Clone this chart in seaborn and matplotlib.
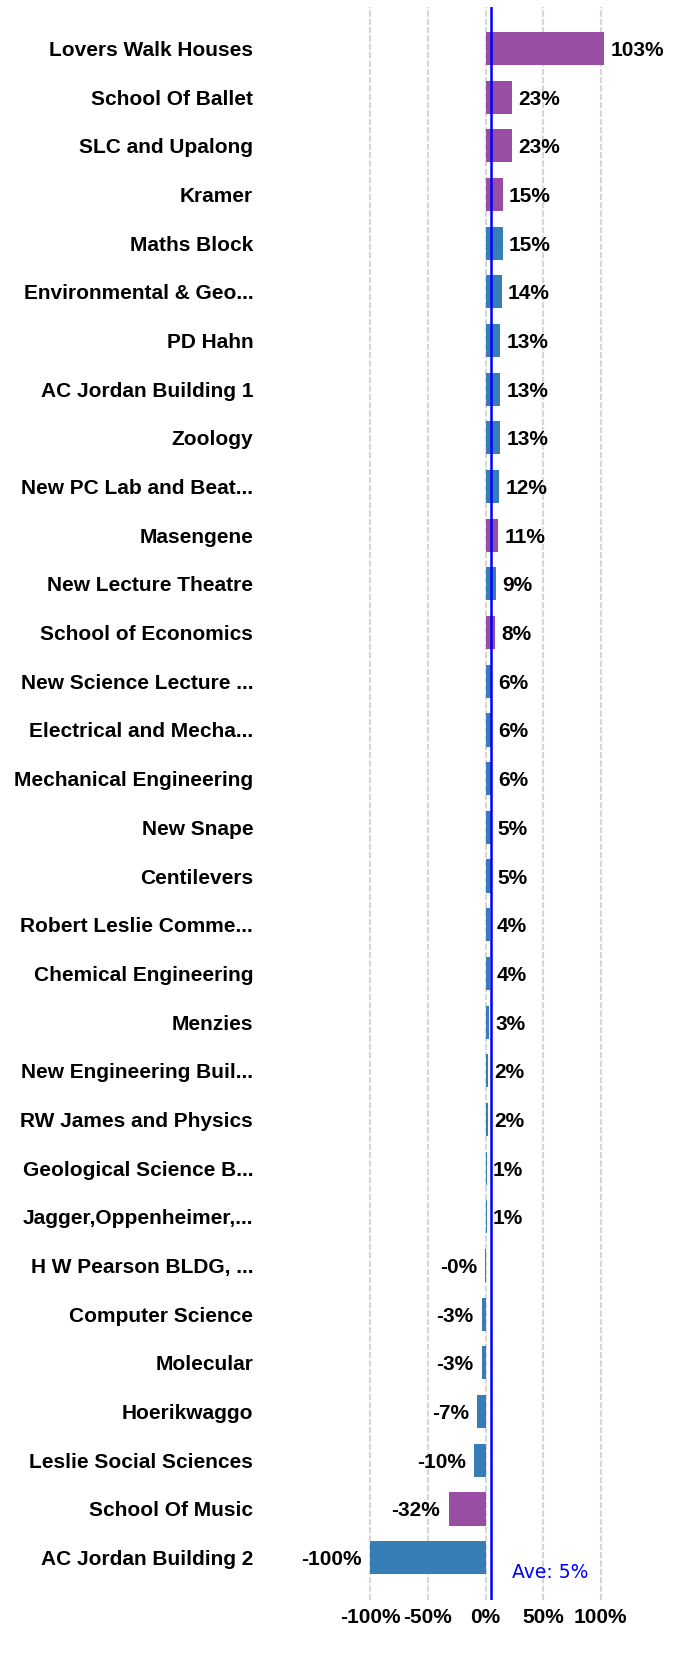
import pandas as pd
import matplotlib
matplotlib.use("Agg")
import matplotlib.pyplot as plt
import seaborn as sns

# building names (top to bottom), change values and colour group
buildings = [
    "Lovers Walk Houses", "School Of Ballet", "SLC and Upalong", "Kramer",
    "Maths Block", "Environmental & Geo...", "PD Hahn", "AC Jordan Building 1",
    "Zoology", "New PC Lab and Beat...", "Masengene", "New Lecture Theatre",
    "School of Economics", "New Science Lecture ...", "Electrical and Mecha...",
    "Mechanical Engineering", "New Snape", "Centilevers",
    "Robert Leslie Comme...", "Chemical Engineering", "Menzies",
    "New Engineering Buil...", "RW James and Physics", "Geological Science B...",
    "Jagger,Oppenheimer,...", "H W Pearson BLDG, ...", "Computer Science",
    "Molecular", "Hoerikwaggo", "Leslie Social Sciences", "School Of Music",
    "AC Jordan Building 2",
]
change = [
    103, 23, 23, 15, 15, 14, 13, 13, 13, 12, 11, 9, 8, 6, 6, 6, 5, 5, 4, 4, 3,
    2, 2, 1, 1, -0.3, -3, -3, -7, -10, -32, -100,
]
group = [
    "p", "p", "p", "p", "b", "b", "b", "b", "b", "b", "p", "b", "p", "b", "b",
    "b", "b", "b", "b", "b", "b", "b", "b", "b", "b", "b", "b", "b", "b", "b",
    "p", "b",
]
average = 5

colors = {"p": "#984EA3", "b": "#377EB8"}

df = pd.DataFrame({"building": buildings, "change": [c / 100 for c in change], "group": group})

sns.set_theme(style="white")
plt.rcParams["font.family"] = ["Liberation Sans", "DejaVu Sans"]

fig = plt.figure(figsize=(6.82, 16.54), dpi=100)
ax = fig.add_axes([299 / 682, 54 / 1654, (672 - 299) / 682, (1600 - 7) / 1654])

sns.barplot(data=df, x="change", y="building", hue="group", palette=colors,
            dodge=False, width=0.68, legend=False, ax=ax, saturation=1,
            linewidth=0, edgecolor="none", zorder=2)

ax.set_xlim(-1.62, 1.62)
ax.set_ylim(len(buildings) - 1 + 0.87, -0.85)
ax.set_xticks([-1, -0.5, 0, 0.5, 1])
ax.set_xticklabels(["-100%", "-50%", "0%", "50%", "100%"])
ax.set_xlabel("")
ax.set_ylabel("")
for s in ax.spines.values():
    s.set_visible(False)

# light dashed vertical grid
ax.grid(axis="x", color="#d6d6d6", linestyle=(0, (3, 1)), linewidth=1.5, zorder=0)
ax.set_axisbelow(True)
ax.tick_params(axis="x", length=2, width=1, color="#ff9900", pad=4, labelsize=15)
ax.tick_params(axis="y", length=0, pad=33, labelsize=15)
for t in ax.get_xticklabels() + ax.get_yticklabels():
    t.set_fontweight("bold")
    t.set_color("black")

# value labels
for i, v in enumerate(change):
    if v >= 0:
        ax.annotate(f"{v:.0f}%", (v / 100, i), xytext=(4.5, 0), textcoords="offset points",
                    ha="left", va="center_baseline", fontsize=15, fontweight="bold", color="black")
    else:
        ax.annotate(f"{v:.0f}%", (v / 100, i), xytext=(-6, 0), textcoords="offset points",
                    ha="right", va="center_baseline", fontsize=15, fontweight="bold", color="black")

# average line
ax.axvline(average / 100, color="#0000ff", linewidth=1.8, zorder=3)
ax.text(average / 100 + 0.18, len(buildings) - 1 + 0.42, f"Ave: {average}%", color="#0000ff",
        fontsize=13.5, family="DejaVu Sans", ha="left", va="baseline")

fig.savefig("out.png", dpi=100)
